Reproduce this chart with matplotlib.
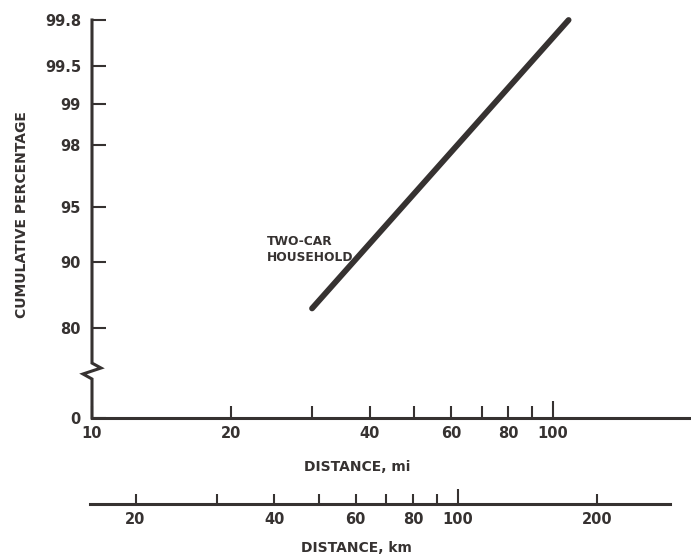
import numpy as np
import matplotlib
matplotlib.use("Agg")
import matplotlib.pyplot as plt
from statistics import NormalDist

# Trip length distribution, two-car households (log-normal -> straight line)
distance_mi = [30, 108]
cum_pct = [83.5, 99.8]

pct_ticks = [80, 90, 95, 98, 99, 99.5, 99.8]
pct_labels = ["80", "90", "95", "98", "99", "99.5", "99.8"]
pct_floor = 59.9          # where the broken axis bottoms out ("0")

mi_ticks = [10, 20, 30, 40, 50, 60, 70, 80, 90, 100]
mi_labels = ["10", "20", "", "40", "", "60", "", "80", "", "100"]
km_ticks = [20, 30, 40, 50, 60, 70, 80, 90, 100, 200]
km_labels = ["20", "", "40", "", "60", "", "80", "", "100", "200"]
MI_TO_KM = 1.609344

INK = "#363231"
W, H = 691, 560

_nd = NormalDist()


def probit(p):
    p = np.clip(np.asarray(p, dtype=float), 1e-6, 100 - 1e-6)
    return np.vectorize(lambda v: _nd.inv_cdf(v / 100.0), otypes=[float])(p)


def inv_probit(z):
    z = np.asarray(z, dtype=float)
    return np.vectorize(lambda v: 100.0 * _nd.cdf(v), otypes=[float])(z)


plt.rcParams["font.family"] = "DejaVu Sans"
plt.rcParams["font.weight"] = "bold"
plt.rcParams["text.color"] = INK
plt.rcParams["xtick.color"] = INK
plt.rcParams["ytick.color"] = INK

fig = plt.figure(figsize=(W / 100, H / 100), dpi=100)

# main panel: left edge px 92, bottom px 418, top px 20
ax_l, ax_b, ax_w, ax_h = 92 / W, (H - 418) / H, (W - 92) / W, 398 / H
ax = fig.add_axes([ax_l, ax_b, ax_w, ax_h])
ax.set_xscale("log")
ax.set_yscale("function", functions=(probit, inv_probit))
xmin, xmax = 10, 199
ax.set_xlim(xmin, xmax)
ax.set_ylim(pct_floor, 99.8)

ax.plot(distance_mi, cum_pct, color=INK, lw=4.2, solid_capstyle="round",
        clip_on=False)
ax.text(23.9, 91.4, "TWO-CAR\nHOUSEHOLD", ha="left", va="center",
        fontsize=8.8, linespacing=1.3)

for s in ("top", "right", "left"):
    ax.spines[s].set_visible(False)
ax.spines["bottom"].set_linewidth(2.2)
ax.spines["bottom"].set_color(INK)

# left spine with a break symbol
axw_px = W - 92
ax.plot([0, 0, 9 / axw_px, -9 / axw_px, 0, 0],
        [1, 0.138, 0.1256, 0.1106, 0.098, 0],
        transform=ax.transAxes, color=INK, lw=2.2, clip_on=False,
        solid_joinstyle="miter")

ax.set_yticks([pct_floor] + pct_ticks, ["0"] + pct_labels)
ax.yaxis.set_minor_locator(plt.NullLocator())
ax.tick_params(axis="y", direction="in", length=10, width=1.5, pad=8,
               labelsize=10.5)

ax.set_xticks(mi_ticks, mi_labels)
ax.xaxis.set_minor_locator(plt.NullLocator())
ax.tick_params(axis="x", direction="in", length=8.5, width=1.5, pad=6,
               labelsize=10.5)
ax.xaxis.get_major_ticks()[mi_ticks.index(100)].tick1line.set_markersize(12)

# kilometre scale below, same log mapping as the mile axis
km_left_px, km_right_px, km_y_px = 90, 670, 504


def px_to_mi(px):
    frac = (px - 92) / axw_px
    return 10 ** (np.log10(xmin) + frac * np.log10(xmax / xmin))


kax = fig.add_axes([km_left_px / W, (H - km_y_px) / H,
                    (km_right_px - km_left_px) / W, 0])
kax.set_xscale("log")
kax.set_xlim(px_to_mi(km_left_px) * MI_TO_KM, px_to_mi(km_right_px) * MI_TO_KM)
kax.patch.set_visible(False)
for s in ("top", "right", "left"):
    kax.spines[s].set_visible(False)
kax.spines["bottom"].set_linewidth(2.2)
kax.spines["bottom"].set_color(INK)
kax.set_yticks([])
kax.set_xticks(km_ticks, km_labels)
kax.xaxis.set_minor_locator(plt.NullLocator())
kax.tick_params(axis="x", direction="in", length=7.5, width=1.5, pad=6,
                labelsize=10.5)
kax.xaxis.get_major_ticks()[km_ticks.index(100)].tick1line.set_markersize(11)

fig.text(22 / W, 1 - 215 / H, "CUMULATIVE PERCENTAGE", rotation=90,
         ha="center", va="center", fontsize=10)
fig.text(357 / W, 1 - 467 / H, "DISTANCE, mi", ha="center", va="center",
         fontsize=10)
fig.text(356 / W, 1 - 548 / H, "DISTANCE, km", ha="center", va="center",
         fontsize=10)

fig.savefig("out.png", dpi=100, facecolor="white")
